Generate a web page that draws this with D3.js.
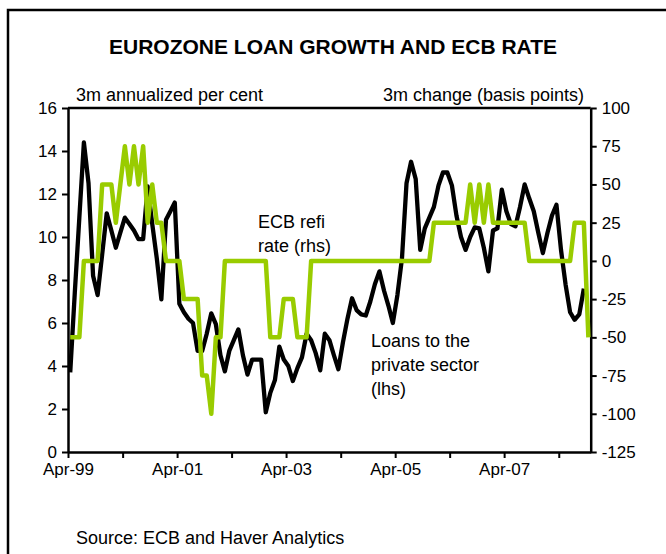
<!DOCTYPE html>
<html>
<head>
<meta charset="utf-8">
<script src="https://cdn.jsdelivr.net/npm/d3@7"></script>
<style>
body { margin: 0; background: #fff; }
svg text { font-family: "Liberation Sans", Arial, sans-serif; fill: #000; }
</style>
</head>
<body>
<svg width="666" height="554"></svg>
<script>
// monthly series, first point is Apr-99
var firstMonth = new Date(1999, 3, 1);

// loans to the private sector, 3m annualized %, lhs (Apr-99 .. Sep-08)
var loanGrowth = [
    3.7, 7.4, 10.9, 14.4, 12.5, 8.2, 7.3, 9.2, 11.1, 10.3, 9.5, 10.2,
    10.9, 10.6, 10.3, 9.9, 9.9, 12.35, 10.6, 9.0, 7.1, 10.8, 11.2, 11.6,
    6.9, 6.5, 6.2, 6.0, 4.7, 4.7, 5.5, 6.45, 5.95, 4.5, 3.75, 4.7,
    5.2, 5.7, 4.5, 3.6, 4.3, 4.3, 4.3, 1.85, 2.75, 3.35, 4.9, 4.3,
    4.0, 3.3, 3.9, 4.4, 5.5, 5.2, 4.6, 3.8, 5.5, 5.2, 4.5, 3.85,
    5.1, 6.2, 7.15, 6.6, 6.4, 6.35, 7.0, 7.8, 8.4, 7.5, 6.8, 6.0,
    7.3, 9.0, 12.5, 13.5, 12.7, 9.4, 10.4, 10.9, 11.4, 12.4, 13.0, 13.0,
    12.4, 11.0, 10.0, 9.4, 10.0, 10.45, 10.4, 9.5, 8.4, 10.3, 10.4, 12.2,
    11.2, 10.6, 10.5, 11.4, 12.45, 11.8, 11.2, 10.2, 9.25, 10.2, 11.0, 11.5,
    9.4, 7.8, 6.5, 6.15, 6.4, 7.6
];

// ECB refi rate, 3m change in basis points, rhs (Apr-99 .. Oct-08)
var refiChange = [
    -50, -50, -50, 0, 0, 0, 0, 50, 50, 50, 25, 50,
    75, 50, 75, 50, 75, 25, 50, 25, 25, 0, 0, 0,
    0, -25, -25, -25, -25, -75, -75, -100, -50, -50, 0, 0,
    0, 0, 0, 0, 0, 0, 0, 0, -50, -50, -50, -25,
    -25, -25, -50, -50, -50, 0, 0, 0, 0, 0, 0, 0,
    0, 0, 0, 0, 0, 0, 0, 0, 0, 0, 0, 0,
    0, 0, 0, 0, 0, 0, 0, 0, 25, 25, 25, 25,
    25, 25, 25, 25, 50, 25, 50, 25, 50, 25, 25, 25,
    25, 25, 25, 25, 25, 0, 0, 0, 0, 0, 0, 0,
    0, 0, 0, 25, 25, 25, -50
];

var leftTicks = [0, 2, 4, 6, 8, 10, 12, 14, 16];
var rightTicks = [-125, -100, -75, -50, -25, 0, 25, 50, 75, 100];
var xTickLabels = ["Apr-99", "", "Apr-01", "", "Apr-03", "", "Apr-05", "", "Apr-07", ""];

var plotLeft = 68, plotRight = 590.7, plotTop = 108, plotBottom = 452;

var svg = d3.select("svg");

// outer frame
svg.append("rect")
    .attr("x", 8).attr("y", 10)
    .attr("width", 700).attr("height", 600)
    .attr("fill", "none")
    .attr("stroke", "#000")
    .attr("stroke-width", 2.5);

var x = d3.scaleTime()
    .domain([firstMonth, d3.timeMonth.offset(firstMonth, 115)])
    .range([plotLeft, plotRight]);

var yL = d3.scaleLinear().domain([0, 16]).range([plotBottom, plotTop]);
var yR = d3.scaleLinear().domain([-125, 100]).range([plotBottom, plotTop]);

// each monthly value sits in the middle of its month
function monthMid(i) {
    var a = d3.timeMonth.offset(firstMonth, i);
    var b = d3.timeMonth.offset(firstMonth, i + 1);
    return new Date((+a + +b) / 2);
}

var xTicks = xTickLabels.map(function(d, i) { return d3.timeMonth.offset(firstMonth, 12 * i); });

function styleAxis(g) {
    g.select(".domain").attr("stroke-width", 2.5);
    g.selectAll(".tick line").attr("stroke-width", 2);
    g.selectAll(".tick text").style("font-size", "17px").attr("font-family", "Liberation Sans, Arial, sans-serif");
}

// plot top border
svg.append("line")
    .attr("x1", plotLeft).attr("x2", plotRight)
    .attr("y1", plotTop).attr("y2", plotTop)
    .attr("stroke", "#000").attr("stroke-width", 2.5);

svg.append("g")
    .attr("transform", "translate(" + plotLeft + ",0)")
    .call(d3.axisLeft(yL).tickValues(leftTicks).tickSize(6).tickSizeOuter(0).tickPadding(5))
    .call(styleAxis);

svg.append("g")
    .attr("transform", "translate(" + plotRight + ",0)")
    .call(d3.axisRight(yR).tickValues(rightTicks).tickSize(6).tickSizeOuter(0).tickPadding(5)
        .tickFormat(function(d) { return String(d); }))
    .call(styleAxis);

svg.append("g")
    .attr("transform", "translate(0," + plotBottom + ")")
    .call(d3.axisBottom(x).tickValues(xTicks).tickSize(6).tickSizeOuter(0).tickPadding(5)
        .tickFormat(function(d, i) { return xTickLabels[i]; }))
    .call(styleAxis);

var loanLine = d3.line()
    .x(function(d, i) { return x(monthMid(i)); })
    .y(function(d) { return yL(d); });

var refiLine = d3.line()
    .x(function(d, i) { return x(monthMid(i)); })
    .y(function(d) { return yR(d); });

svg.append("path")
    .datum(loanGrowth)
    .attr("d", loanLine)
    .attr("fill", "none")
    .attr("stroke", "#000")
    .attr("stroke-width", 4.3)
    .attr("stroke-linejoin", "round");

svg.append("path")
    .datum(refiChange)
    .attr("d", refiLine)
    .attr("fill", "none")
    .attr("stroke", "#99cc00")
    .attr("stroke-width", 4.5)
    .attr("stroke-linejoin", "round");

// texts
svg.append("text")
    .attr("x", 333).attr("y", 54)
    .attr("text-anchor", "middle")
    .style("font-size", "21px").style("font-weight", "bold")
    .text("EUROZONE LOAN GROWTH AND ECB RATE");

svg.append("text").attr("x", 76).attr("y", 101)
    .style("font-size", "18px").text("3m annualized per cent");

svg.append("text").attr("x", 584).attr("y", 101)
    .attr("text-anchor", "end")
    .style("font-size", "18px").text("3m change (basis points)");

var notes = [
    { x: 258, y: 228, lines: ["ECB refi", "rate (rhs)"] },
    { x: 371, y: 347, lines: ["Loans to the", "private sector", "(lhs)"] }
];
notes.forEach(function(n) {
    var t = svg.append("text").attr("x", n.x).attr("y", n.y).style("font-size", "18px");
    n.lines.forEach(function(s, i) {
        t.append("tspan").attr("x", n.x).attr("dy", i ? 24 : 0).text(s);
    });
});

svg.append("text").attr("x", 76).attr("y", 544)
    .style("font-size", "18px").text("Source: ECB and Haver Analytics");
</script>
</body>
</html>
